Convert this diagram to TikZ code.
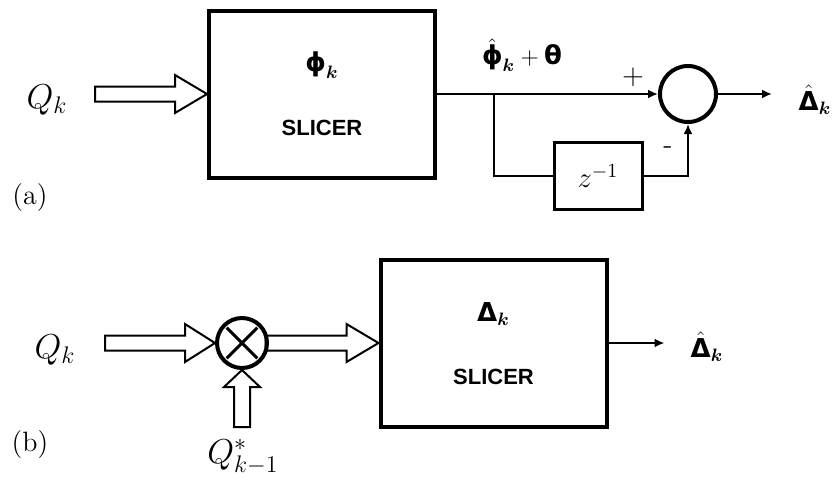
\documentclass[tikz,border=0pt]{standalone}
\usepackage{amsmath}
\usepackage{fontspec}
\setsansfont{Liberation Sans}
\newfontfamily\greekfont{DejaVu Sans}
\usetikzlibrary{arrows.meta,positioning,calc}

% upright sans Greek as in the scan
\newcommand{\gk}[1]{\text{\greekfont\bfseries #1}}
% hollow block arrows: tip, head length, shaft length
\newcommand{\fatright}[3]{%
  \draw[hollow] (#1) -- ++(-#2,-19) -- ++(0,11.5) -- ++(-#3,0) -- ++(0,15)
    -- ++(#3,0) -- ++(0,11.5) -- cycle;}
\newcommand{\fatup}[3]{%
  \draw[hollow] (#1) -- ++(-18,#2) -- ++(10,0) -- ++(0,#3) -- ++(16,0)
    -- ++(0,-#3) -- ++(10,0) -- cycle;}

\begin{document}
\begin{tikzpicture}[
  x=0.5pt,y=-0.5pt,
  slicer/.style={draw,line width=2pt,minimum width=113pt,minimum height=83.5pt,inner sep=0pt},
  delay/.style={draw,line width=1.5pt,minimum width=44pt,minimum height=33.5pt,inner sep=0pt,font=\fontsize{14}{16}\selectfont},
  junct/.style={draw,circle,line width=2pt,inner sep=0pt},
  sig/.style={font=\fontsize{17}{20}\selectfont,inner sep=0pt},
  greek/.style={font=\fontsize{13}{15}\selectfont,inner sep=0pt},
  tag/.style={font=\fontsize{14}{16}\selectfont,inner sep=0pt},
  caps/.style={font=\sffamily\bfseries\fontsize{11}{13}\selectfont,inner sep=0pt},
  arr/.style={-{Latex[length=5pt,width=4.5pt]},line width=1pt},
  wire/.style={line width=1pt},
  hollow/.style={line width=1pt,line join=miter}
]
\useasboundingbox (0,0) rectangle (836,483);

% (a) slicer with differential detection
\node[slicer] (slicerA) at (322,94) {};
\node[greek] (phiA) at ($(slicerA.center)+(0,-29)$) {$\gk{ϕ}_{\boldsymbol{k}}$};
\node[caps] (capA) at ($(slicerA.center)+(0,34)$) {SLICER};
\node[sig] (qA) at (47,100) {$Q_k$};
\fatright{slicerA.west}{32}{80}
\node[junct,minimum size=28pt] (sum) at (688,94) {};
\node[delay] (zinv) at (598,176) {$z^{-1}$};
\node[greek] (est) at (522,55) {$\hat{\gk{ϕ}}_{\boldsymbol{k}}+\gk{θ}$};
\node[tag] (plus) at (633,77) {$+$};
\node[tag] (minus) at (668,150) {-};
\node[greek] (outA) at (815,100) {$\hat{\gk{Δ}}_{\boldsymbol{k}}$};
\node[tag] (la) at (30,198) {(a)};
\coordinate (tap) at ($(slicerA.east)+(57,0)$);
\coordinate (endA) at ($(sum.east)+(54,0)$);
\draw[arr] (slicerA.east) -- (sum.west);
\draw[wire] (tap) |- (zinv.west);
\draw[arr] (zinv.east) -| (sum.south);
\draw[arr] (sum.east) -- (endA);

% (b) conjugate product, then slicer
\node[sig] (qB) at (55,350) {$Q_k$};
\node[junct,minimum size=25pt] (mult) at (242,343) {};
\draw[line width=1.5pt] ($(mult.center)!0.8!(mult.45)$) -- ($(mult.center)!0.8!(mult.225)$);
\draw[line width=1.5pt] ($(mult.center)!0.8!(mult.135)$) -- ($(mult.center)!0.8!(mult.315)$);
\fatright{mult.west}{30}{80}
\node[slicer] (slicerB) at (493.5,343) {};
\node[greek] (deltaB) at ($(slicerB.center)+(0,-29)$) {$\gk{Δ}_{\boldsymbol{k}}$};
\node[caps] (capB) at ($(slicerB.center)+(0,34)$) {SLICER};
\fatright{slicerB.west}{32}{81}
\fatup{mult.south}{17}{40}
\node[sig] (qprev) at (243,457) {$Q^{*}_{k-1}$};
\coordinate (endB) at ($(slicerB.east)+(56,0)$);
\draw[arr] (slicerB.east) -- (endB);
\node[greek] (outB) at (707,347) {$\hat{\gk{Δ}}_{\boldsymbol{k}}$};
\node[tag] (lb) at (30,445) {(b)};
\end{tikzpicture}
\end{document}
